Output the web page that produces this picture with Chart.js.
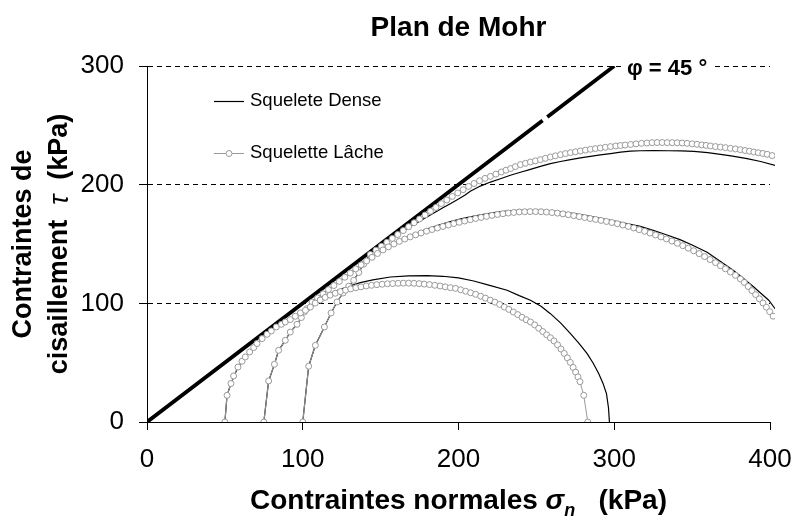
<!DOCTYPE html>
<html lang="fr">
<head>
<meta charset="UTF-8">
<title>Plan de Mohr</title>
<script src="https://cdn.jsdelivr.net/npm/chart.js"></script>
<style>
  body { margin: 0; background: #fff; }
  #mohr { display: block; }
</style>
</head>
<body>
<canvas id="mohr" width="795" height="523"></canvas>
<script>
// Enveloppe de rupture (phi = 45 deg), petite coupure vers 255 kPa
const envSig = [0, 254, 255.5, 257, 300];
const envTau = [0, 254, null, 257, 300];

// Squelette dense, sigma3 = 50 / 75 / 100 kPa
const denseSig50 = [50, 51.4, 53.9, 58.4, 63.1, 68.5, 73.9, 79.8, 86.3, 92, 98.5, 104.9, 110, 115, 120, 124.2, 130, 137, 145, 156.3, 168, 180, 190, 200, 209.8, 220, 231.2, 239, 246.2, 253, 259, 265.5, 271.9, 277.5, 282.6, 286.5, 290, 292.8, 295, 296.3, 296.9];
const denseTau50 = [0, 22.5, 32.4, 46.3, 54.8, 62.7, 70.3, 76.7, 82.3, 86.3, 91.9, 97, 102, 106.3, 109.8, 111.8, 114.6, 117.4, 119.8, 122.2, 123.2, 123.3, 122.8, 121.4, 118.8, 115.2, 111, 106.5, 102.6, 97.5, 91.3, 83.5, 74.5, 66, 57.6, 49.5, 40.8, 32.5, 23.9, 12, 0];

const denseSig75 = [75, 78.1, 81.8, 84.5, 88.8, 92, 96.3, 99.1, 102.8, 106, 113, 120, 127, 134, 141, 146, 150, 156, 162, 168, 175, 182, 189, 196, 203, 210, 217, 224, 231, 238, 245, 252, 259, 266, 273, 280, 287, 294, 301, 308, 316.8, 325, 333, 342.6, 350, 359.6, 368, 376.8, 383, 389.6, 395, 399.2, 403.5];
const denseTau75 = [0, 34.6, 48.6, 60.4, 68.8, 75.8, 82.3, 88, 95.6, 101, 108, 115, 122, 129, 135.7, 140.5, 144, 148.8, 153, 156.6, 160.3, 163.6, 166.6, 169.3, 171.6, 173.6, 175.3, 176.7, 177.7, 178.3, 178.5, 178.4, 177.9, 177, 175.8, 174.3, 172.6, 170.8, 169, 167.2, 164.8, 161.5, 158, 153.5, 149.2, 143, 135.5, 127.5, 121, 113.8, 107.5, 102.6, 95];

const denseSig100 = [100, 103.8, 108.1, 113.9, 118.2, 122, 125.9, 129.5, 132.7, 136, 139.1, 142, 144.5, 150, 155, 160, 165, 170, 175, 180, 185, 190, 195, 200, 204, 207.6, 214, 220.5, 226.9, 233.3, 239.8, 246.2, 252.6, 259, 265.5, 271.9, 278.3, 284.7, 291.1, 297.6, 304.1, 310.4, 316.8, 325, 335, 343, 351.1, 360, 368.2, 376, 385.3, 394, 403.3];
const denseTau100 = [0, 47, 64.6, 80.1, 91.9, 101.1, 108.7, 114.4, 119.4, 126, 133, 139, 143.2, 148.6, 153.1, 157.3, 161.3, 165.3, 169.2, 173, 176.8, 180.5, 184.2, 187.9, 191.1, 194.5, 198.8, 202.2, 205, 207.9, 210.5, 212.9, 215.4, 217.7, 219.5, 221.1, 222.6, 223.9, 225.1, 226.2, 227.4, 228.2, 228.6, 228.7, 228.6, 228.4, 228.1, 227, 225.6, 224, 222, 219.5, 216.3];

// Squelette lache, sigma3 = 50 / 75 / 100 kPa
const looseSig50 = [50, 51.4, 53.9, 55.6, 58.4, 61, 63.1, 65.9, 68.5, 70.6, 73.9, 77.1, 79.8, 83, 86.3, 88.8, 92, 95.2, 98.5, 101.7, 104.9, 108, 111.2, 114.4, 117.6, 120.9, 124.2, 127.5, 130.8, 134.1, 137.4, 140.8, 144.2, 147.6, 151, 154.4, 157.8, 161.2, 164.6, 168, 171.4, 174.7, 178, 181.4, 184.8, 188.2, 191.5, 194.8, 198.1, 201.4, 204.6, 207.8, 211, 214.2, 217.3, 220.4, 223.4, 226.4, 229.4, 232.3, 235.2, 238, 240.8, 243.5, 246.2, 248.9, 251.5, 254.1, 256.6, 259, 261.3, 263.6, 265.8, 267.9, 269.9, 271.8, 273.6, 275.2, 276.7, 278, 280.4, 283];
const looseTau50 = [0, 22.5, 32.4, 38.8, 46.3, 51.2, 54.8, 59, 62.7, 66.1, 70.3, 73.9, 76.7, 80.1, 82.3, 84.3, 86.3, 89.1, 91.9, 94.1, 96.9, 100.2, 102.8, 105, 106.9, 108.5, 109.9, 111.1, 112.2, 113.1, 113.9, 114.6, 115.2, 115.7, 116.1, 116.5, 116.7, 116.9, 117, 117, 116.9, 116.6, 116.2, 115.8, 115.2, 114.6, 113.9, 113.2, 112.6, 111.4, 110.2, 108.9, 107.6, 106, 104.4, 102.7, 101, 99.1, 96.9, 94.9, 92.7, 90.5, 88.2, 86.2, 84.3, 81.8, 79, 76.2, 73.5, 71, 68.3, 65, 61.5, 57.8, 54, 50.2, 46, 42, 38, 34, 22.5, 0];

const looseSig75 = [75, 78.1, 81.8, 84.5, 88.8, 92, 96.3, 99.1, 101, 102.8, 106, 109.5, 113, 116.5, 120, 123.5, 127, 130.5, 134, 137.5, 141, 144.5, 148, 151.5, 155, 158.5, 162, 165.5, 169, 172.5, 176, 179.5, 183, 186.5, 190, 193.5, 197, 200.5, 204, 207.6, 211, 214.5, 218, 221.5, 225, 228.5, 232, 235.5, 239, 242.5, 246, 249.5, 253, 256.5, 260, 263.5, 267, 270.5, 274, 277.5, 281, 284.5, 288, 291.5, 295, 298.5, 302, 305.5, 309, 312.5, 316, 319.5, 323, 326.5, 330, 333.5, 337, 340.5, 344, 347.5, 351, 354.5, 358, 361.5, 365, 368.2, 371.4, 374.6, 377.8, 381, 383.5, 386, 388.4, 390.8, 393.2, 395.5, 397.7, 399.8, 402, 404];
const looseTau75 = [0, 34.6, 48.6, 60.4, 68.8, 75.8, 82.3, 88, 92.7, 95.6, 101, 104.5, 108, 111.5, 115, 118.5, 122, 125.5, 129, 132.4, 135.7, 138.8, 142, 145, 147.6, 150, 152.2, 154.2, 156, 157.7, 159.3, 160.8, 162.2, 163.5, 164.8, 166, 167.2, 168.3, 169.4, 170.5, 171.5, 172.4, 173.3, 174.1, 174.9, 175.5, 176.1, 176.6, 177, 177.2, 177.3, 177.3, 177.2, 176.9, 176.5, 176, 175.4, 174.7, 173.9, 173.1, 172.3, 171.5, 170.7, 169.9, 169, 168.1, 167.1, 166, 164.8, 163.5, 162.1, 160.7, 159.2, 157.6, 156, 154.3, 152.5, 150.6, 148.6, 146.5, 144.3, 141.9, 139.4, 136.9, 134.3, 131.7, 129.1, 126.4, 123.6, 120.6, 117.6, 114.2, 110.7, 107.3, 103.8, 100.3, 96.7, 93, 89.2, 85.5];

const looseSig100 = [100, 103.8, 108.1, 113.9, 118.2, 122, 125.9, 129.5, 132.7, 136, 139.1, 143.4, 147, 150.5, 154, 157.5, 161, 164.5, 168, 171.5, 175, 178.5, 182, 185.5, 189, 192.5, 196, 199.5, 203, 206.5, 210, 213.5, 217, 220.5, 224, 227.5, 230.5, 233.5, 236.5, 239.8, 243, 246.2, 249.4, 252.6, 255.8, 259, 262.2, 265.5, 268.7, 271.9, 275.1, 278.3, 281.5, 284.7, 287.9, 291.1, 294.3, 297.6, 301, 304, 307, 310.5, 314, 317.5, 321, 324.3, 327.5, 330.8, 334, 337.2, 340.4, 343.6, 346.8, 350, 353.2, 356.2, 359, 361.8, 365, 368.2, 371.4, 374.6, 377.8, 381, 384, 386.8, 389.6, 392.5, 395.4, 398.2, 401.4];
const looseTau100 = [0, 47, 64.6, 80.1, 91.9, 101.1, 108.7, 114.4, 119.4, 126, 133, 141.2, 144.8, 148.1, 151.4, 154.7, 158, 161.3, 164.6, 167.9, 171.1, 174.4, 177.6, 180.8, 184, 187.1, 190.1, 193, 195.8, 198.5, 201, 203.3, 205.3, 207, 208.9, 210.7, 212.2, 213.6, 215.2, 216.9, 218, 219.1, 220.1, 221.1, 222.2, 223.3, 224.3, 225.3, 226.2, 227, 227.7, 228.4, 229.1, 229.8, 230.4, 230.9, 231.5, 232.1, 232.6, 233, 233.4, 233.9, 234.4, 234.8, 235.1, 235.4, 235.5, 235.5, 235.4, 235.4, 235.3, 235.1, 234.8, 234.4, 234, 233.5, 233.1, 232.6, 232.1, 231.7, 231.2, 230.6, 230.1, 229.5, 228.8, 228.2, 227.5, 226.9, 226.3, 225.6, 224.5];

const xTicks = [0, 100, 200, 300, 400];
const yTicks = [0, 100, 200, 300];

const FONT = '"Liberation Sans", Arial, sans-serif';
const GREY = '#999999';

function pts(xs, ys) {
  return xs.map((x, i) => ({ x: x, y: ys[i] }));
}

function dense(xs, ys) {
  return {
    data: pts(xs, ys), showLine: true, order: 2,
    borderColor: '#000', borderWidth: 1.2, pointRadius: 0,
    clip: { left: 0, top: 0, right: 5, bottom: 0 }
  };
}

function loose(xs, ys) {
  return {
    data: pts(xs, ys), showLine: true, order: 1,
    borderColor: GREY, borderWidth: 1,
    pointRadius: 3, pointBorderWidth: 1,
    pointBorderColor: GREY, pointBackgroundColor: '#fff',
    clip: { left: 0, top: 0, right: 5, bottom: 0 }
  };
}

// titres, legende et etiquette de l'enveloppe
const decorations = {
  id: 'decorations',
  afterDraw(chart) {
    const ctx = chart.ctx;
    const area = chart.chartArea;
    const midX = (area.left + area.right) / 2;
    const midY = (area.top + area.bottom) / 2;
    ctx.save();
    ctx.fillStyle = '#000';
    ctx.textBaseline = 'alphabetic';

    ctx.font = 'bold 28px ' + FONT;
    ctx.textAlign = 'center';
    ctx.fillText('Plan de Mohr', midX, 36);

    // titre axe x : sigma indice n
    const parts = [
      { t: 'Contraintes normales ', f: 'bold 28px ' + FONT, dy: 0 },
      { t: '\u03c3', f: 'italic bold 28px ' + FONT, dy: 0 },
      { t: 'n', f: 'italic bold 18px ' + FONT, dy: 7 },
      { t: '   (kPa)', f: 'bold 28px ' + FONT, dy: 0 }
    ];
    drawParts(ctx, parts, midX, 509);

    // titre axe y sur deux lignes
    ctx.save();
    ctx.translate(24, midY);
    ctx.rotate(-Math.PI / 2);
    ctx.font = 'bold 27px ' + FONT;
    ctx.textAlign = 'center';
    ctx.textBaseline = 'middle';
    ctx.fillText('Contraintes de', 0, 0);
    ctx.restore();
    ctx.save();
    ctx.translate(60, midY);
    ctx.rotate(-Math.PI / 2);
    ctx.textBaseline = 'middle';
    drawParts(ctx, [
      { t: 'cisaillement  ', f: 'bold 27px ' + FONT, dy: 0 },
      { t: '\u03c4', f: 'italic 27px ' + FONT, dy: 0 },
      { t: '  (kPa)', f: 'bold 27px ' + FONT, dy: 0 }
    ], 0, 0);
    ctx.restore();

    // legende
    ctx.textAlign = 'left';
    ctx.textBaseline = 'middle';
    ctx.font = '18.5px ' + FONT;
    ctx.lineWidth = 1.2;
    ctx.strokeStyle = '#000';
    ctx.beginPath();
    ctx.moveTo(214, 101.5);
    ctx.lineTo(244, 101.5);
    ctx.stroke();
    ctx.fillText('Squelete Dense', 250, 101);
    ctx.lineWidth = 1;
    ctx.strokeStyle = GREY;
    ctx.beginPath();
    ctx.moveTo(214, 153.5);
    ctx.lineTo(244, 153.5);
    ctx.stroke();
    ctx.beginPath();
    ctx.arc(229, 153.5, 3, 0, Math.PI * 2);
    ctx.fillStyle = '#fff';
    ctx.fill();
    ctx.stroke();
    ctx.fillStyle = '#000';
    ctx.fillText('Squelette L\u00e2che', 250, 153);

    // etiquette phi sur fond blanc
    ctx.font = 'bold 22px ' + FONT;
    const lbl = '\u03c6 = 45 \u00b0';
    const w = ctx.measureText(lbl).width;
    ctx.fillStyle = '#fff';
    ctx.fillRect(621, 56, w + 12, 22);
    ctx.fillStyle = '#000';
    ctx.textBaseline = 'alphabetic';
    ctx.fillText(lbl, 627, 75);
    ctx.restore();
  }
};

function drawParts(ctx, parts, cx, baseY) {
  let total = 0;
  parts.forEach(p => { ctx.font = p.f; p.w = ctx.measureText(p.t).width; total += p.w; });
  let x = cx - total / 2;
  ctx.textAlign = 'left';
  parts.forEach(p => {
    ctx.font = p.f;
    ctx.fillText(p.t, x, baseY + p.dy);
    x += p.w;
  });
}

new Chart(document.getElementById('mohr'), {
  type: 'scatter',
  data: {
    datasets: [
      {
        data: pts(envSig, envTau), showLine: true, order: 3,
        borderColor: '#000', borderWidth: 3.8, pointRadius: 0, spanGaps: false
      },
      dense(denseSig50, denseTau50),
      dense(denseSig75, denseTau75),
      dense(denseSig100, denseTau100),
      loose(looseSig50, looseTau50),
      loose(looseSig75, looseTau75),
      loose(looseSig100, looseTau100)
    ]
  },
  options: {
    responsive: false,
    animation: false,
    events: [],
    layout: { padding: { top: 66, right: 25, bottom: 0, left: 0 } },
    plugins: { legend: { display: false }, tooltip: { enabled: false }, title: { display: false } },
    scales: {
      x: {
        type: 'linear', min: 0, max: 400,
        afterBuildTicks(scale) { scale.ticks = xTicks.map(v => ({ value: v })); },
        ticks: { color: '#000', font: { family: FONT, size: 26 }, padding: 14, maxRotation: 0 },
        grid: { drawOnChartArea: false, drawTicks: true, tickLength: 8, tickColor: '#000', tickWidth: 1 },
        border: { color: '#000', width: 1 },
        afterFit(scale) {
          scale.height = 101;
          scale.paddingLeft = 0;
          scale.paddingRight = 0;
        }
      },
      y: {
        type: 'linear', min: 0, max: 300,
        afterBuildTicks(scale) { scale.ticks = yTicks.map(v => ({ value: v })); },
        ticks: { color: '#000', font: { family: FONT, size: 26 }, padding: 15 },
        grid: {
          color: c => (c.tick && c.tick.value === 0) ? 'rgba(0,0,0,0)' : '#000',
          lineWidth: 1, tickLength: 8, tickColor: '#000', tickWidth: 1
        },
        border: { color: '#000', width: 1, dash: [5, 4] },
        afterFit(scale) { scale.width = 147; }
      }
    }
  },
  plugins: [decorations]
});
</script>
</body>
</html>
